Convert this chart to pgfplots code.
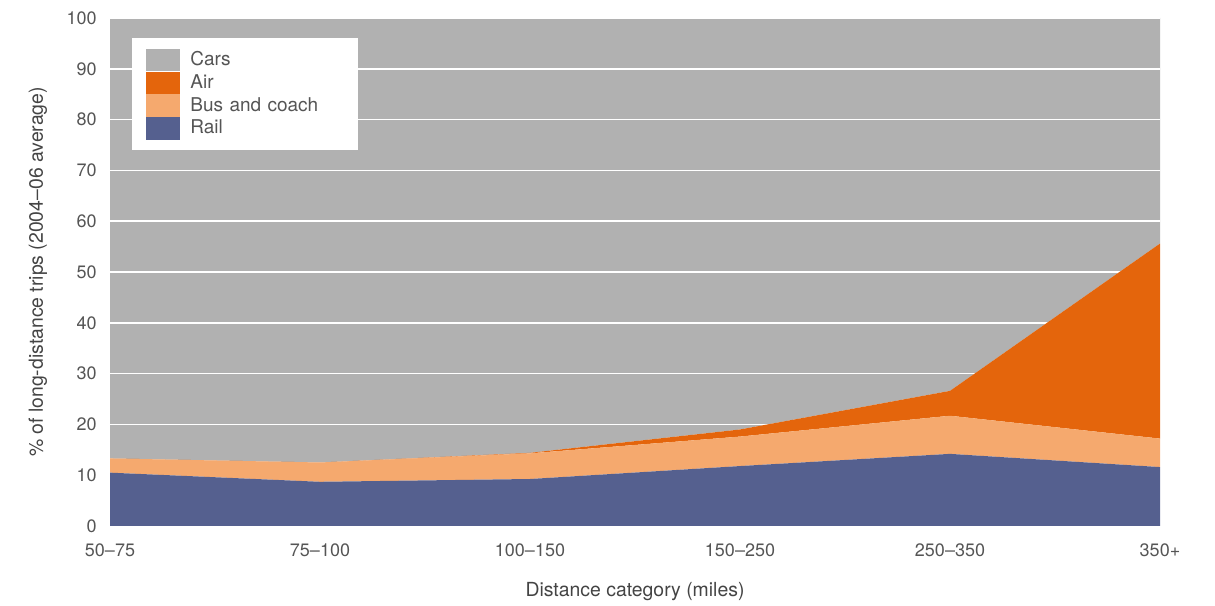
\documentclass[border=0pt]{standalone}
\usepackage{pgfplots}
\pgfplotsset{compat=1.18}
\usepackage{fontspec}
\setmainfont{TeX Gyre Heros}
\definecolor{cars}{HTML}{B1B1B1}
\definecolor{air}{HTML}{E4650C}
\definecolor{bus}{HTML}{F5A96E}
\definecolor{rail}{HTML}{55608F}
\definecolor{txt}{HTML}{555555}
\definecolor{lbl}{HTML}{444444}
\begin{document}
\begin{tikzpicture}
\begin{axis}[
  set layers,
  scale only axis,
  width=525pt, height=254pt,
  xmin=0, xmax=5, ymin=0, ymax=100,
  stack plots=y,
  axis line style={draw=none},
  xtick={0,1,2,3,4,5},
  xticklabels={50--75,75--100,100--150,150--250,250--350,350+},
  ytick={0,10,...,100},
  ymajorgrids,
  grid style={white, line width=0.8pt},
  major tick length=0pt,
  tick label style={font=\fontsize{9}{10}\selectfont, text=txt},
  /pgf/number format/assume math mode=true,
  xticklabel style={inner sep=0pt, anchor=north, yshift=-8.5pt},
  yticklabel style={inner sep=0pt, anchor=east, xshift=-6.5pt},
  label style={font=\fontsize{9.7}{10}\selectfont, text=lbl},
  xlabel={Distance category (miles)},
  ylabel={\% of long-distance trips (2004--06 average)},
  xlabel style={at={(rel axis cs:0.5,-0.13)}, anchor=center},
  ylabel style={at={(rel axis cs:-0.0686,0.5)}, anchor=center},
  reverse legend,
  legend style={at={(rel axis cs:0.021,0.961)}, anchor=north west, draw=none, fill=white,
    font=\fontsize{9.5}{10}\selectfont, text=txt, inner xsep=7pt, inner ysep=4.5pt,
    row sep=-1pt, text width=72pt, nodes={inner xsep=5pt}},
  legend cell align=left,
  legend image code/.code={\fill[#1] (0pt,-5.6pt) rectangle (17pt,5.6pt);},
]
\addplot[fill=rail, draw=none] coordinates {(0,10.5) (1,8.7) (2,9.25) (3,11.8) (4,14.2) (5,11.6)} \closedcycle;
\addlegendentry{Rail}
\addplot[fill=bus, draw=none] coordinates {(0,2.8) (1,3.8) (2,5.05) (3,5.8) (4,7.5) (5,5.6)} \closedcycle;
\addlegendentry{Bus and coach}
\addplot[fill=air, draw=none] coordinates {(0,0) (1,0) (2,0.1) (3,1.4) (4,4.9) (5,38.4)} \closedcycle;
\addlegendentry{Air}
\addplot[fill=cars, draw=none, on layer=axis background] coordinates {(0,86.7) (1,87.5) (2,85.6) (3,81.0) (4,73.4) (5,44.4)} \closedcycle;
\addlegendentry{Cars}
\coordinate (bl) at (rel axis cs:-0.10476,-0.15551);
\coordinate (tr) at (rel axis cs:1.05238,1.03543);
\end{axis}
\pgfresetboundingbox
\useasboundingbox (bl) rectangle (tr);
\end{tikzpicture}
\end{document}
